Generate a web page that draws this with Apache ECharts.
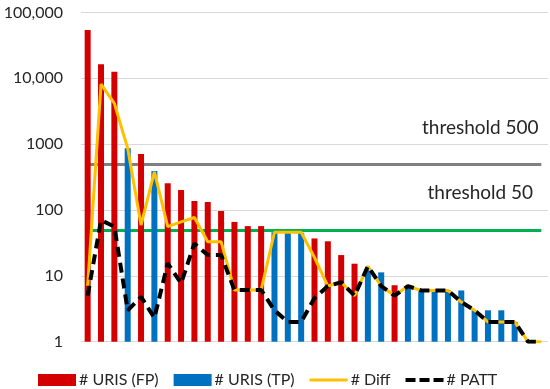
<!DOCTYPE html>
<html>
<head>
<meta charset="utf-8">
<script src="https://cdn.jsdelivr.net/npm/echarts@6/dist/echarts.min.js"></script>
<style>
html,body{margin:0;padding:0;background:#fff;}
#chart{width:550px;height:389px;}
</style>
</head>
<body>
<div id="chart"></div>
<script>
var categories = ['1','2','3','4','5','6','7','8','9','10','11','12','13','14','15','16','17','18','19','20','21','22','23','24','25','26','27','28','29','30','31','32','33','34','35'];
var urisFP = [54000,16300,12600,null,708,null,254,201,137,132,97,66,57,57,null,null,null,37,33.5,20.7,15.3,null,null,7.2,null,null,null,null,null,null,null,null,null,null,null];
var urisTP = [null,null,null,865,null,391,null,null,null,null,null,null,null,null,46,45,45,null,null,null,null,13,11.3,null,7,6,6,6,6,3,3,3,2,1,1];
var diff = [7,8190,4170,865,59,380,56,66,77,33,33,6.1,6.1,6.1,46,46,46,19,7,8,5,14,7,5,7,6,6,6,4,3,2,2,2,1,1];
var patt = [5,70,56,3,4.8,2.3,15.5,7.7,31,20.7,20.7,6.1,6.1,6.1,3,2,2,4.6,7,8,5,14,7,5,7,6,6,6,4,3,2,2,2,1,1];
var yTicks = [1,10,100,1000,10000,100000];
var thresholds = [500, 50];

var font = 'Lato, "Noto Sans", sans-serif';
var chart = echarts.init(document.getElementById('chart'), null, {renderer:'canvas'});
var lastIdx = categories.length - 1;
function fmt(v){
  if (v >= 10000) return v.toLocaleString('en-US');
  return String(v);
}
function thrLabel(txt){
  return {show:true,position:'insideEndTop',distance:[0,27],formatter:'{a|'+txt+'}',
    rich:{a:{width:122,align:'center',fontFamily:font,fontSize:19,color:'#262626'}}};
}
chart.setOption({
  animation:false,
  backgroundColor:'#ffffff',
  grid:{left:81,right:2,top:12.5,bottom:47.3},
  legend:{
    left:33, top:367,
    itemWidth:38, itemHeight:12, itemGap:15,
    textStyle:{fontFamily:font,fontSize:16,color:'#262626',padding:[0,0,0,-2]},
    data:[
      {name:'# URIS (FP)', icon:'rect'},
      {name:'# URIS (TP)', icon:'rect'},
      {name:'# Diff', icon:'path://M0,0h38v3h-38z'},
      {name:'# PATT', icon:'path://M0,0h10v4h-10z M14,0h10v4h-10z M28,0h10v4h-10z'}
    ]
  },
  xAxis:{
    type:'category', data:categories,
    axisLine:{show:true,lineStyle:{color:'#d9d9d9',width:1}},
    axisTick:{show:false}, axisLabel:{show:false}, splitLine:{show:false}
  },
  yAxis:{
    type:'log', logBase:10, min:1, max:100000,
    axisLine:{show:false}, axisTick:{show:false},
    splitLine:{show:true,lineStyle:{color:'#d9d9d9',width:1}},
    axisLabel:{fontFamily:font,fontSize:16,color:'#262626',margin:18,formatter:fmt}
  },
  series:[
    {name:'# URIS (FP)', type:'bar', data:urisFP, barWidth:6, barGap:'-100%', itemStyle:{color:'#D40000'}},
    {name:'# URIS (TP)', type:'bar', data:urisTP, barWidth:6, barGap:'-100%', itemStyle:{color:'#0070C0'}},
    {name:'# Diff', type:'line', data:diff, symbol:'none', showSymbol:false, z:3,
      lineStyle:{color:'#FFC000',width:3}, itemStyle:{color:'#FFC000'},
      markLine:{
        silent:true, symbol:'none', z:2,
        data:[
          [{coord:[0,thresholds[0]],lineStyle:{color:'#808080',width:3,type:'solid'},label:thrLabel('threshold 500')},
           {coord:[lastIdx,thresholds[0]]}],
          [{coord:[0,thresholds[1]],lineStyle:{color:'#00B050',width:3,type:'solid'},label:thrLabel('threshold 50')},
           {coord:[lastIdx,thresholds[1]]}]
        ]
      }
    },
    {name:'# PATT', type:'line', data:patt, symbol:'none', showSymbol:false, z:4,
      lineStyle:{color:'#000000',width:4,type:[10,6]}, itemStyle:{color:'#000000'}}
  ]
});
</script>
</body>
</html>
